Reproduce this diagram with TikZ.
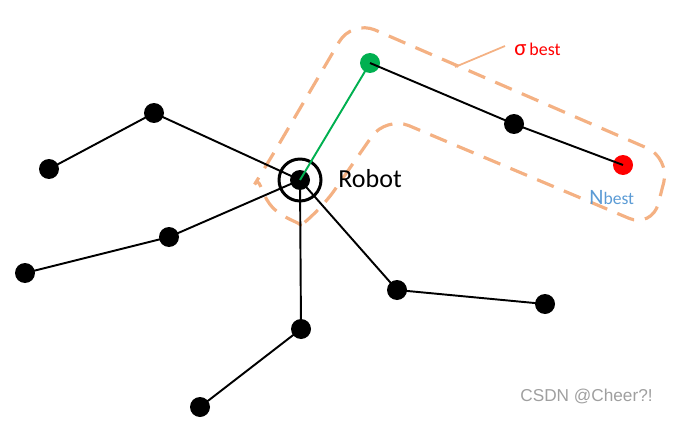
\documentclass[tikz,border=0pt]{standalone}
\usepackage{fontspec}
\setmainfont{Carlito}
\newfontfamily\wmfont{Liberation Sans}
\usetikzlibrary{positioning, calc}
\definecolor{peach}{HTML}{F4B183}
\definecolor{ngreen}{HTML}{00B050}
\definecolor{nblue}{HTML}{5B9BD5}

\begin{document}
\begin{tikzpicture}[x=0.02cm,y=-0.02cm,
  vertex/.style={circle,fill=black,inner sep=0pt,minimum size=0.4cm},
  link/.style={line width=1.1pt},
  hull/.style={draw=peach,line width=1.8pt,dash pattern=on 0.36cm off 0.22cm,
               rounded corners=0.5cm}]
  \useasboundingbox (0,0) rectangle (675,429);
  % dashed region round the best branch
  \draw[hull] (320,211) arc[start angle=53,end angle=212,radius=36]
              -- (352,20) -- (670,158) -- (652,228) -- (386,116) -- cycle;
  % nodes
  \node[vertex] (robot) at (300,180) {};
  \node[circle,draw,line width=1.7pt,minimum size=0.84cm] (ring) at (robot) {};
  \node[vertex,fill=ngreen] (G) at (370,63) {};
  \node[vertex] (M) at (514,124) {};
  \node[vertex,fill=red] (Nb) at (623,165) {};
  \node[vertex] (A1) at (154,113) {};
  \node[vertex] (A2) at (49,169) {};
  \node[vertex] (B1) at (169,237) {};
  \node[vertex] (B2) at (25,273) {};
  \node[vertex] (C1) at (301,329) {};
  \node[vertex] (C2) at (200,407) {};
  \node[vertex] (D1) at (397,290) {};
  \node[vertex] (D2) at (545,304) {};
  % edges
  \draw[link] (robot.center) -- (A1.center) -- (A2.center);
  \draw[link] (robot.center) -- (B1.center) -- (B2.center);
  \draw[link] (robot.center) -- (C1.center) -- (C2.center);
  \draw[link] (robot.center) -- (D1.center) -- (D2.center);
  \draw[link,ngreen] (robot.center) -- (G.center);
  \draw[link] (G.center) -- (M.center) -- (Nb.center);
  % labels
  \node[anchor=west,inner sep=0pt,font=\fontsize{14.8}{16}\selectfont] (rlabel)
    at (338,179) {Robot};
  \node[anchor=west,inner sep=0pt,text=red] (sig) at (514,49)
    {{\fontsize{13}{14}\selectfont σ}\,{\fontsize{10.2}{12}\selectfont best}};
  \coordinate (hullpt) at (455,67);
  \draw[peach,line width=1pt] (hullpt) -- ($(sig.west)+(-9,-3)$);
  \node[anchor=west,inner sep=0pt,text=nblue] (nlabel) at (589,198)
    {{\fontsize{12.5}{14}\selectfont N}{\fontsize{10}{12}\selectfont best}};
  \node[anchor=west,inner sep=0pt,text=gray!75,font=\wmfont\fontsize{9.8}{11}\selectfont]
    (wm) at (520,396) {CSDN @Cheer?!};
\end{tikzpicture}
\end{document}
